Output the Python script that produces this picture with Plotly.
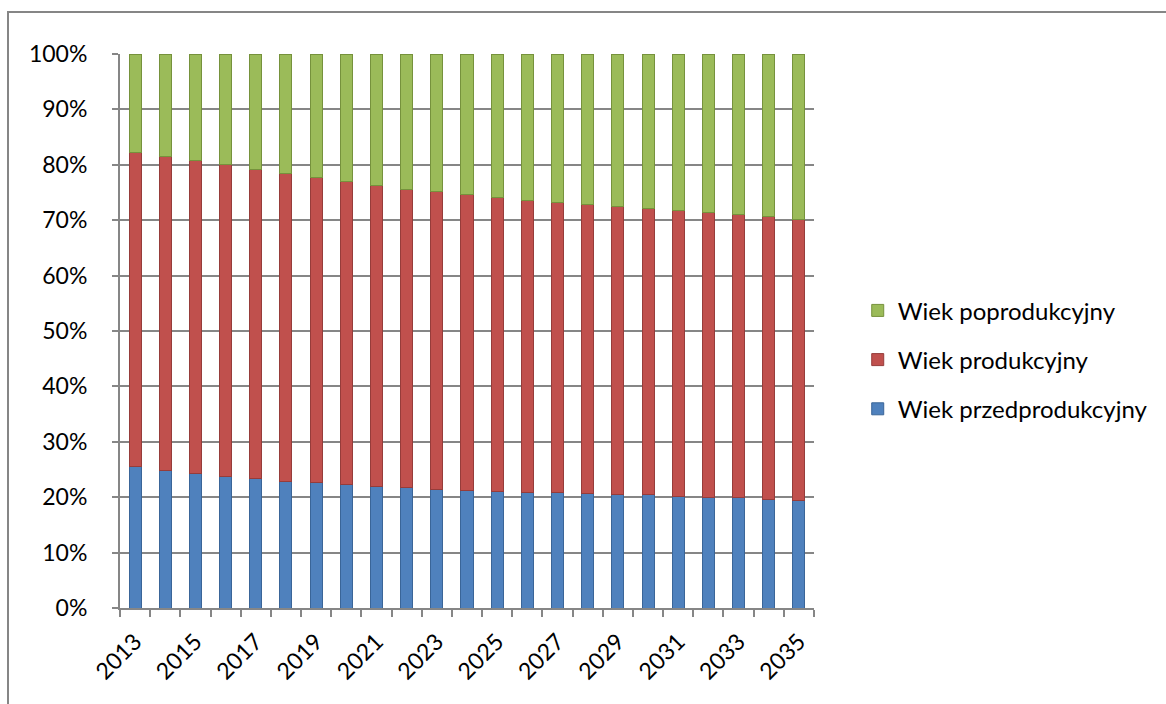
import plotly.graph_objects as go

years = [str(y) for y in range(2013, 2036)]
przed = [25.6, 24.9, 24.3, 23.8, 23.3, 22.9, 22.6, 22.3, 21.9, 21.7, 21.4, 21.2,
         21.0, 20.9, 20.8, 20.6, 20.5, 20.4, 20.2, 20.0, 19.9, 19.6, 19.4]
prod = [56.6, 56.6, 56.4, 56.2, 55.9, 55.5, 55.1, 54.7, 54.4, 53.9, 53.7, 53.4,
        53.1, 52.7, 52.4, 52.3, 52.0, 51.7, 51.5, 51.4, 51.2, 51.0, 50.8]
popro = [17.8, 18.5, 19.3, 20.0, 20.8, 21.6, 22.3, 23.0, 23.7, 24.4, 24.9, 25.4,
         25.9, 26.4, 26.8, 27.1, 27.5, 27.9, 28.3, 28.6, 28.9, 29.4, 29.8]
tick_labels = [y if i % 2 == 0 else "" for i, y in enumerate(years)]

FONT = "Lato"
fig = go.Figure()
series = [
    ("Wiek przedprodukcyjny", przed, "#4F81BD", "#3A6598", 3),
    ("Wiek produkcyjny", prod, "#C0504D", "#963C3A", 2),
    ("Wiek poprodukcyjny", popro, "#9BBB59", "#76923C", 1),
]
for name, vals, col, lc, rank in series:
    fig.add_trace(go.Bar(
        x=years, y=vals, name=name, legendgroup=name, legendrank=rank,
        marker=dict(color=col, line=dict(color=lc, width=1)),
    ))

fig.update_layout(
    barmode="stack",
    bargap=0.6,
    width=1166, height=704,
    margin=dict(l=120, r=352, t=54, b=96),
    paper_bgcolor="white", plot_bgcolor="white",
    font=dict(family=FONT, size=22, color="#000000"),
    showlegend=True,
    legend=dict(
        traceorder="grouped", tracegroupgap=15,
        x=1.063, y=0.448, xanchor="left", yanchor="middle",
        font=dict(family=FONT, size=24, color="#000000"),
        itemwidth=30,
    ),
    xaxis=dict(
        type="category", tickmode="array", tickvals=years, ticktext=tick_labels,
        tickangle=-45, tickson="boundaries", ticks="outside", ticklen=7,
        tickcolor="#868686", tickwidth=2,
        showline=True, linecolor="#868686", linewidth=2,
        showgrid=False, tickfont=dict(family=FONT, size=23),
        ticklabelstandoff=9,
    ),
    yaxis=dict(
        range=[0, 100], dtick=10, ticksuffix="%",
        ticks="outside", ticklen=6, tickcolor="#868686", tickwidth=2,
        showline=True, linecolor="#868686", linewidth=2,
        showgrid=True, gridcolor="#868686", gridwidth=2,
        zeroline=False, tickfont=dict(family=FONT, size=23),
        ticklabelstandoff=20,
    ),
    shapes=[dict(
        type="rect", xref="paper", yref="paper",
        x0=-112 / 694, x1=1.6, y0=-0.3, y1=1 + 42 / 554,
        line=dict(color="#868686", width=2), fillcolor="rgba(0,0,0,0)",
        layer="below",
    )],
)

fig.write_html("out.html")
